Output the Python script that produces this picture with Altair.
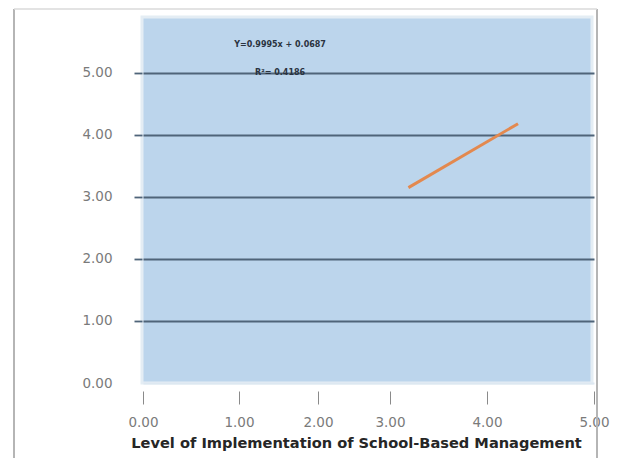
import altair as alt
import pandas as pd

# Data
x_ticks = [0, 1, 2, 3, 4, 5]
x_tick_px = [1, 97, 176, 248, 345, 452]   # uneven tick spacing on the original axis
fit_x = [3.19, 4.29]
fit_y = [3.15, 4.18]
ann_text = ["Y=0.9995x + 0.0687", "R²= 0.4186"]
ann_x = [1.52, 1.52]
ann_y = [5.45, 4.99]

W, H = 450, 366
grid_col = "#4f6479"

xscale = alt.Scale(domain=x_ticks, range=x_tick_px)
yscale = alt.Scale(domain=[0, 5.9], nice=False, zero=True)

fit_df = pd.DataFrame({"x": fit_x, "y": fit_y})
ann_df = pd.DataFrame({"t": ann_text, "x": ann_x, "y": ann_y})

base_axis_x = alt.Axis(
    values=x_ticks, format=".2f", grid=False, domain=False, labelFlush=False,
    tickSize=13, offset=8, tickColor="#8a8a8a", tickWidth=1,
    labelColor="#7a7a7a", labelFontSize=13.5, labelFont="DejaVu Sans",
    labelPadding=11, title="Level of Implementation of School-Based Management",
    titleFont="DejaVu Sans", titleFontSize=14.6, titleFontWeight="bold",
    titleColor="#262626", titlePadding=7, titleX=214, titleAlign="center",
)
base_axis_y = alt.Axis(
    values=[0, 1, 2, 3, 4, 5], format=".2f", grid=True,
    gridColor=alt.condition("datum.value == 0", alt.value("#dde8f1"), alt.value(grid_col)),
    gridWidth=1.8, gridOpacity=1, domain=False, tickSize=8,
    tickColor=alt.condition("datum.value == 0", alt.value("#ffffff00"), alt.value(grid_col)),
    tickWidth=1.8, labelColor="#7a7a7a", labelFontSize=13.5, labelFlush=False,
    labelFont="DejaVu Sans", labelPadding=22, title=None,
)

line = alt.Chart(fit_df).mark_line(color="#e3894f", strokeWidth=3).encode(
    x=alt.X("x:Q", scale=xscale, axis=base_axis_x),
    y=alt.Y("y:Q", scale=yscale, axis=base_axis_y),
)

ann = alt.Chart(ann_df).mark_text(
    fontSize=8, fontWeight="bold", color="#2a3340", font="DejaVu Sans"
).encode(
    x=alt.X("x:Q", scale=xscale),
    y=alt.Y("y:Q", scale=yscale),
    text="t:N",
)

frame_df = pd.DataFrame({"k": [0]})
frame_left = alt.Chart(frame_df).mark_rule(color="#b5b5b5", strokeWidth=2).encode(
    x=alt.value(-128), y=alt.value(-8), y2=alt.value(H + 80)
)
frame_right = alt.Chart(frame_df).mark_rule(color="#b5b5b5", strokeWidth=2).encode(
    x=alt.value(455), y=alt.value(-8), y2=alt.value(H + 80)
)
frame_top = alt.Chart(frame_df).mark_rule(color="#dadada", strokeWidth=1.5).encode(
    x=alt.value(-128), x2=alt.value(455), y=alt.value(-8)
)

chart = alt.layer(line, ann, frame_left, frame_right, frame_top).properties(
    width=W, height=H, background="white",
    autosize=alt.AutoSizeParams(type="none"),
    padding={"left": 134, "top": 9, "right": 40, "bottom": 75},
).configure_view(
    fill="#bcd5ec", stroke="#e4edf4", strokeWidth=3
)

chart.save("out.html", embed_options={"renderer": "svg", "actions": False})
